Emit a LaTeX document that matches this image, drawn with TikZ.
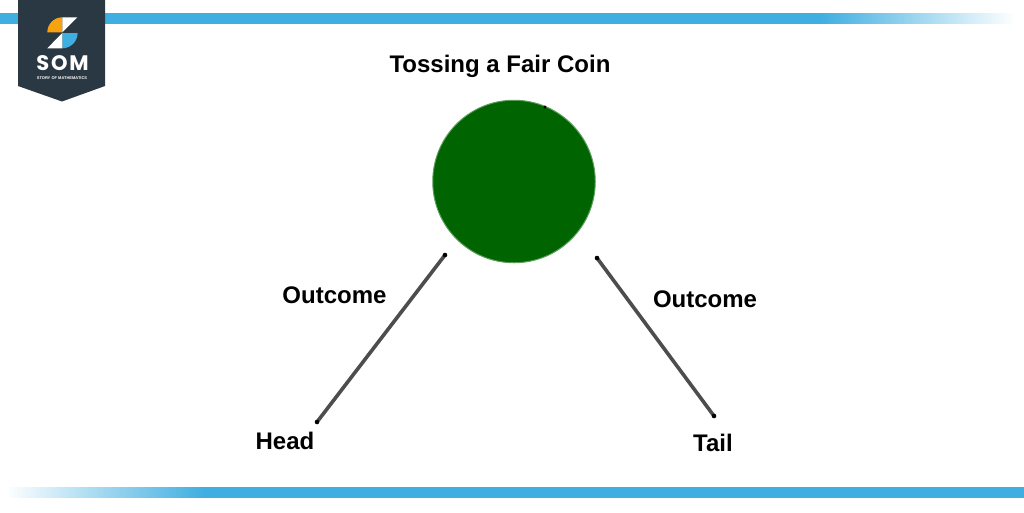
\documentclass[tikz,border=0pt]{standalone}
\usepackage{fontspec}
\setmainfont{Liberation Sans}
\newfontfamily\somfont[LetterSpace=9]{Poppins}
\definecolor{barblue}{HTML}{3FAEE0}
\definecolor{logodark}{HTML}{2A3843}
\definecolor{logoorange}{HTML}{F7A30F}
\definecolor{coingreen}{HTML}{006400}
\definecolor{coinedge}{HTML}{5A9E5A}
\definecolor{linkgrey}{HTML}{4D4D4D}
\tikzset{
  lbl/.style={font=\bfseries\fontsize{24}{28}\selectfont,text=black,inner sep=0pt,anchor=center},
  link/.style={draw=linkgrey,line width=3.6pt},
  tipdot/.style={fill=black}
}
\begin{document}
\begin{tikzpicture}[x=1pt,y=-1pt]
\useasboundingbox (0,0) rectangle (1024,512);
% bars
\fill[barblue] (0,13) rectangle (820,23.5);
\shade[left color=barblue,right color=white] (820,13) rectangle (1015,23.5);
\fill[barblue] (205,487) rectangle (1024,497.5);
\shade[left color=white,right color=barblue] (5,487) rectangle (205,497.5);
% logo
\fill[logodark] (18,0) -- (105,0) -- (105,86) -- (62,101.5) -- (18,86) -- cycle;
\fill[logoorange] (47.3,32.3) arc[start angle=180,end angle=270,radius=15] -- (62.3,32.3) -- cycle;
\fill[white] (62.3,17.3) -- (77.3,17.3) -- (62.3,32.3) -- cycle;
\fill[barblue] (77.6,33) arc[start angle=0,end angle=90,radius=15.3] -- (62.3,33) -- cycle;
\fill[white] (62.3,33) -- (62.3,48.3) -- (47.3,48.3) -- cycle;
\node[inner sep=0pt,text=white,text depth=0pt,text height=15pt,anchor=base,font=\somfont\bfseries\fontsize{21}{23}\selectfont] (som) at (62.5,70.5) {SOM};
\node[inner sep=0pt,text=white,text depth=0pt,text height=3pt,anchor=base,font=\bfseries\fontsize{4}{4.2}\selectfont] (story) at (62,79.5) {STORY OF MATHEMATICS};
% coin
\node[circle,draw=coinedge,fill=coingreen,line width=1pt,minimum size=162.5pt,inner sep=0pt] (coin) at (514,181.5) {};
\fill[black] (545,107) circle[radius=1.6];
% labels
\node[lbl] (title) at (500,66) {Tossing a Fair Coin};
\node[lbl] (o1) at (334.5,295.5) {Outcome};
\node[lbl] (o2) at (705,299) {Outcome};
\node[lbl] (head) at (285,440.5) {Head};
\node[lbl] (tail) at (713,443) {Tail};
% connectors
\coordinate (a1) at (445,255);
\coordinate (a2) at (317,422);
\coordinate (b1) at (597,258);
\coordinate (b2) at (714,416);
\draw[link] (a1) -- (a2);
\draw[link] (b1) -- (b2);
\foreach \p in {a1,a2,b1,b2} \fill[tipdot] (\p) circle[radius=2.3];
\end{tikzpicture}
\end{document}
